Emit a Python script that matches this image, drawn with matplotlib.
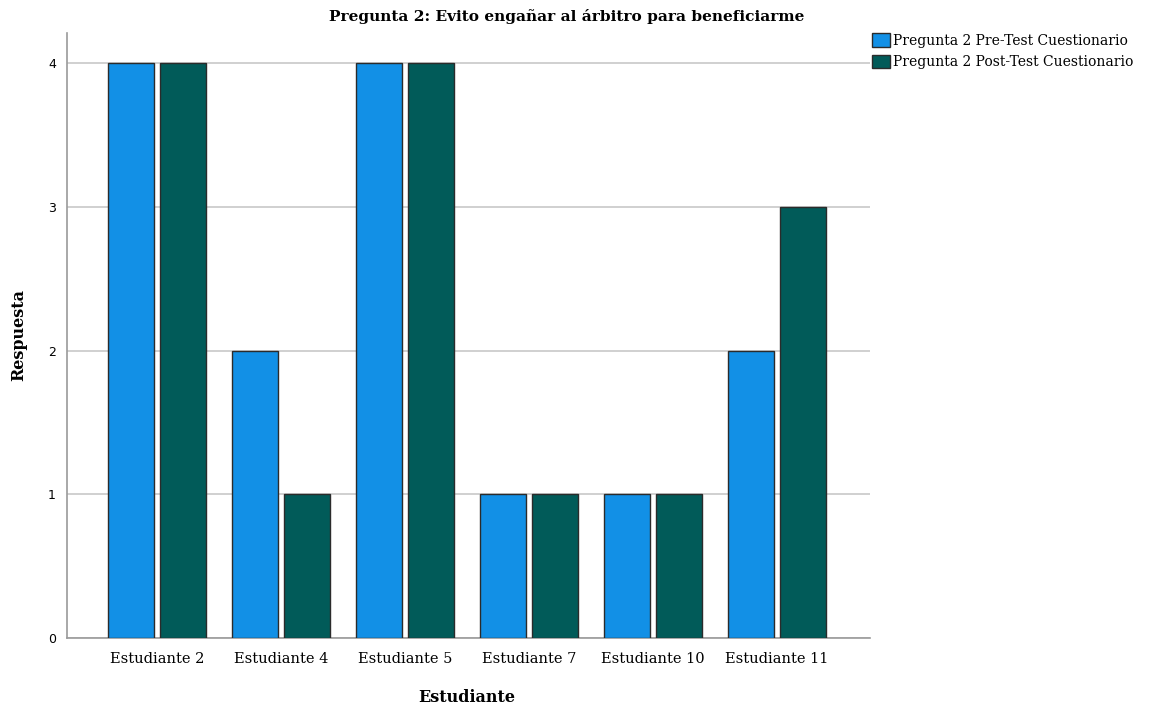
import matplotlib
matplotlib.use("Agg")
import matplotlib.pyplot as plt
import numpy as np

categories = ["Estudiante 2", "Estudiante 4", "Estudiante 5", "Estudiante 7", "Estudiante 10", "Estudiante 11"]
pre_values = [4, 2, 4, 1, 1, 2]
post_values = [4, 1, 4, 1, 1, 3]
series_labels = ["Pregunta 2 Pre-Test Cuestionario", "Pregunta 2 Post-Test Cuestionario"]
y_ticks = [0, 1, 2, 3, 4]

W, H = 1153, 710
fig = plt.figure(figsize=(W / 100, H / 100), dpi=100)
ax = fig.add_axes([67 / W, 1 - 638 / H, (870 - 67) / W, (638 - 33) / H])

serif = ["DejaVu Serif"]
blue = "#1290E6"
green = "#015B59"
edge = "#2b2b2b"

x = np.arange(len(categories))
bw = 0.375
off = 0.208
ax.bar(x - off, pre_values, width=bw, color=blue, edgecolor=edge, linewidth=1.0, zorder=3, label=series_labels[0])
ax.bar(x + off, post_values, width=bw, color=green, edgecolor=edge, linewidth=1.0, zorder=3, label=series_labels[1])

ax.set_xlim(-0.726, 5.75)
ax.set_ylim(0, 4.21)
ax.set_yticks(y_ticks)
ax.set_yticklabels([str(v) for v in y_ticks], fontsize=9, family="DejaVu Sans")
ax.set_xticks(x)
ax.set_xticklabels(categories, fontsize=10.5, family=serif)
ax.tick_params(axis="y", length=0, pad=8)
ax.tick_params(axis="x", length=0, pad=10)

ax.yaxis.grid(True, color="#c8c8c8", linewidth=1.2, zorder=0)
ax.set_axisbelow(True)
for s in ["top", "right"]:
    ax.spines[s].set_visible(False)
for s in ["left", "bottom"]:
    ax.spines[s].set_color("#9a9a9a")
    ax.spines[s].set_linewidth(1.2)

fig.text(567 / W, 1 - 17 / H, "Pregunta 2: Evito engañar al árbitro para beneficiarme",
         ha="center", va="center", fontsize=11.1, fontweight="bold", family=serif)
fig.text(467 / W, 1 - 698 / H, "Estudiante", ha="center", va="center",
         fontsize=11.5, fontweight="bold", family=serif)
fig.text(19 / W, 1 - 335 / H, "Respuesta", ha="center", va="center", rotation=90,
         fontsize=11.5, fontweight="bold", family=serif)

leg = fig.legend(loc="upper left", bbox_to_anchor=(872 / W, 1 - 33 / H), frameon=False,
                 prop={"family": serif, "size": 10}, handlelength=1.3, handleheight=1.15,
                 handletextpad=0.2, labelspacing=0.5, borderaxespad=0, borderpad=0)

fig.savefig("out.png", dpi=100)
